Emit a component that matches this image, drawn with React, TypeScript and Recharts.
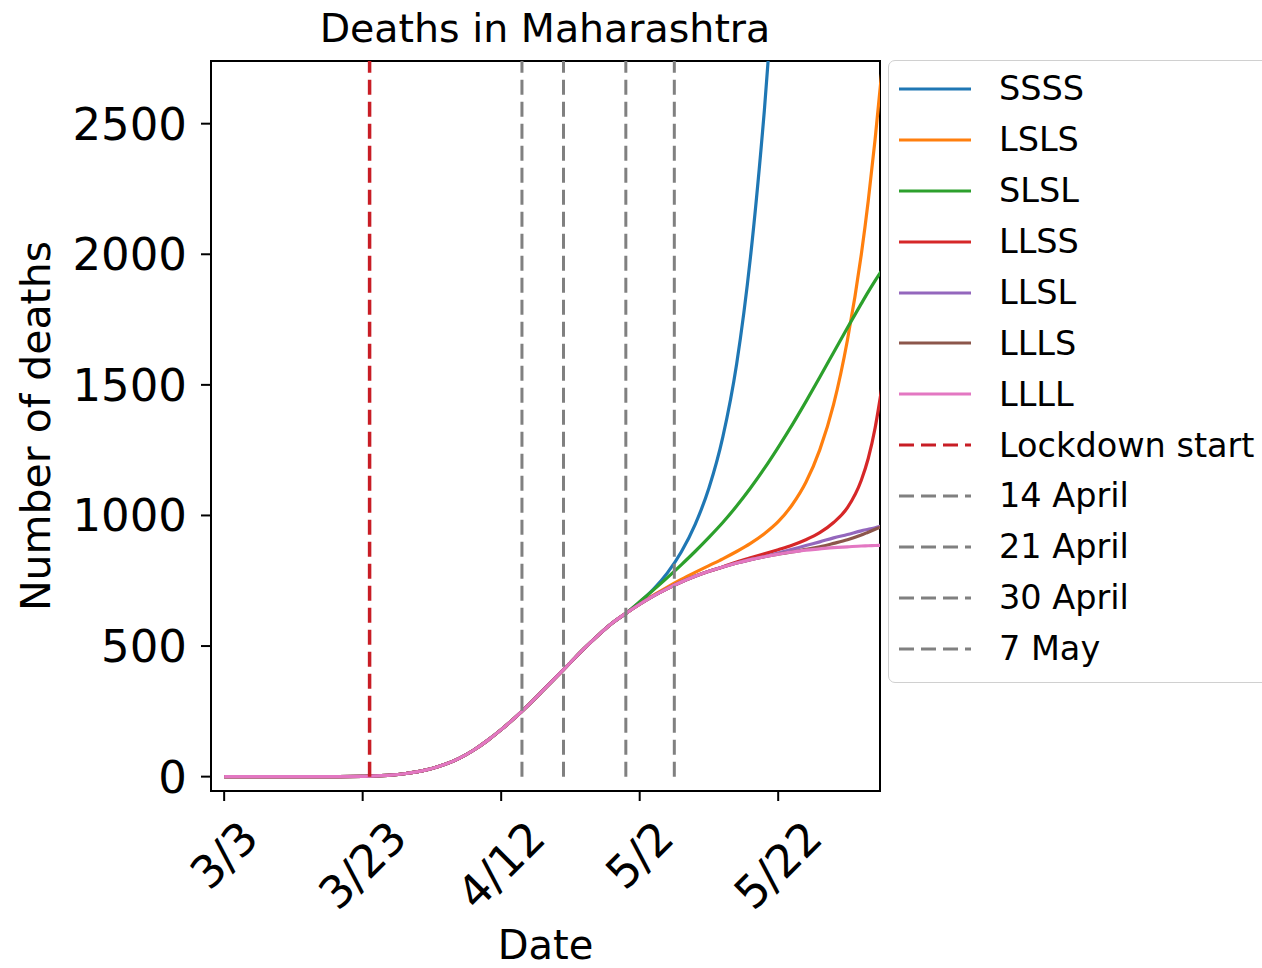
import React from "react";
import { LineChart, Line, XAxis, YAxis, ReferenceLine, ReferenceArea } from "recharts";

const FONT = "'DejaVu Sans', 'Liberation Sans', sans-serif";

// x values are days since 3 March
const earlyDays = [0, 5, 10, 15, 20, 22, 24, 26, 28, 30, 32, 34, 36, 38, 40, 42, 44, 46, 48, 50, 52, 54, 56];
const earlyDeaths = [0, 0, 0, 0, 1, 3, 6, 11, 19, 31, 48, 71, 101, 138, 180, 226, 276, 329, 383, 437, 491, 541, 587];

// after 30 April the scenarios split
const lateDays = [58, 60, 62, 64, 66, 68, 70, 72, 74, 76, 78, 80, 82, 84, 86, 88, 90, 92, 93, 94, 95];
const ssss = [625, 668, 718, 780, 860, 965, 1105, 1300, 1580, 1990, 2550, 3250];
const lsls = [625, 661, 695, 726, 755, 782, 808, 834, 862, 893, 930, 976, 1040, 1127, 1251, 1425, 1672, 1999, 2204, 2442, 2710];
const slsl = [625, 670, 715, 762, 811, 862, 916, 973, 1036, 1105, 1180, 1261, 1346, 1436, 1529, 1624, 1719, 1811, 1856, 1899, 1940];
const llss = [625, 660, 692, 720, 745, 767, 786, 803, 822, 838, 853, 869, 886, 907, 934, 973, 1030, 1135, 1218, 1336, 1495];
const llsl = [625, 660, 692, 720, 745, 767, 786, 803, 818, 831, 842, 856, 870, 885, 899, 914, 927, 941, 947, 953, 960];
const llls = [625, 660, 692, 720, 745, 767, 786, 803, 818, 831, 842, 852, 860, 870, 880, 893, 907, 925, 936, 947, 958];
const llll = [625, 660, 692, 720, 745, 767, 786, 803, 818, 831, 842, 852, 860, 867, 872, 877, 880, 883, 884, 885, 886];

const seriesNames = ["SSSS", "LSLS", "SLSL", "LLSS", "LLSL", "LLLS", "LLLL"];
const seriesColors = ["#1f77b4", "#ff7f0e", "#2ca02c", "#d62728", "#9467bd", "#8c564b", "#e377c2"];
const seriesValues = [ssss, lsls, slsl, llss, llsl, llls, llll];

const lockdownDay = 21;
const markerDays = [43, 49, 58, 65];
const markerLabels = ["14 April", "21 April", "30 April", "7 May"];

const xTicks = [0, 20, 40, 60, 80];
const xTickLabels = ["3/3", "3/23", "4/12", "5/2", "5/22"];
const yTicks = [0, 500, 1000, 1500, 2000, 2500];

const X_DOMAIN: [number, number] = [-1.9, 94.7];
const Y_DOMAIN: [number, number] = [-55, 2740];

const LOCKDOWN_RED = "#c81d25";
const MARKER_GREY = "#808080";

const data = [
  ...earlyDays.map((day, i) => {
    const row: Record<string, number> = { day };
    seriesNames.forEach((n) => (row[n] = earlyDeaths[i]));
    return row;
  }),
  ...lateDays.map((day, i) => {
    const row: Record<string, number> = { day };
    seriesNames.forEach((n, k) => {
      const v = seriesValues[k][i];
      if (v !== undefined) row[n] = v;
    });
    return row;
  }),
];

// rotated 45° like matplotlib: box centred on the tick, top just below it
function XTick({ x, y, payload }: any) {
  const label = xTickLabels[xTicks.indexOf(payload.value)] ?? "";
  const w = [...label].reduce((s, c) => s + (c === "/" ? 0.337 : 0.636), 0) * 45;
  const h = (w + 33) * 0.7071;
  const cy = y + 15 + h / 2;
  return (
    <text
      x={x}
      y={cy}
      transform={`rotate(-45 ${x} ${cy})`}
      textAnchor="middle"
      dominantBaseline="central"
      fontSize={45}
      fontFamily={FONT}
      fill="#000"
    >
      {label}
    </text>
  );
}

const legendItems = [
  ...seriesNames.map((n, i) => ({ label: n, color: seriesColors[i], dash: undefined as string | undefined })),
  { label: "Lockdown start", color: LOCKDOWN_RED, dash: "15 7" },
  ...markerLabels.map((l) => ({ label: l, color: MARKER_GREY, dash: "15 7" })),
];

export default function App() {
  return (
    <div style={{ position: "absolute", left: 0, top: 0, width: 1262, height: 968, overflow: "hidden", background: "#fff" }}>
      <div
        style={{
          position: "absolute",
          left: 0,
          width: 1090,
          top: 9,
          textAlign: "center",
          fontFamily: FONT,
          fontSize: 39.5,
          lineHeight: 1,
          color: "#000",
        }}
      >
        Deaths in Maharashtra
      </div>
      <LineChart width={1262} height={968} data={data} margin={{ top: 61, right: 382, bottom: 0, left: 0 }}>
        <XAxis
          dataKey="day"
          type="number"
          domain={X_DOMAIN}
          allowDataOverflow
          ticks={xTicks}
          height={177}
          tick={<XTick />}
          tickSize={10}
          axisLine={{ stroke: "#000", strokeWidth: 2 }}
          tickLine={{ stroke: "#000", strokeWidth: 2 }}
          label={{
            content: ({ viewBox }: any) => (
              <text
                x={viewBox.x + viewBox.width / 2}
                y={viewBox.y + viewBox.height - 9}
                textAnchor="middle"
                fontSize={40}
                fontFamily={FONT}
                fill="#000"
              >
                Date
              </text>
            ),
          }}
        />
        <YAxis
          type="number"
          domain={Y_DOMAIN}
          allowDataOverflow
          ticks={yTicks}
          width={211}
          tickSize={10}
          tickMargin={14}
          tick={{ fontSize: 45, fill: "#000", fontFamily: FONT }}
          axisLine={{ stroke: "#000", strokeWidth: 2 }}
          tickLine={{ stroke: "#000", strokeWidth: 2 }}
          label={{
            content: ({ viewBox }: any) => {
              const cy = viewBox.y + viewBox.height / 2;
              return (
                <text
                  x={50}
                  y={cy}
                  transform={`rotate(-90 50 ${cy})`}
                  textAnchor="middle"
                  fontSize={41}
                  fontFamily={FONT}
                  fill="#000"
                >
                  Number of deaths
                </text>
              );
            },
          }}
        />
        <ReferenceArea
          x1={X_DOMAIN[0]}
          x2={X_DOMAIN[1]}
          y1={Y_DOMAIN[0]}
          y2={Y_DOMAIN[1]}
          fill="none"
          stroke="#000"
          strokeWidth={2}
          ifOverflow="visible"
        />
        {seriesNames.map((n, i) => (
          <Line
            key={n}
            type="monotone"
            dataKey={n}
            stroke={seriesColors[i]}
            strokeWidth={3.2}
            dot={false}
            isAnimationActive={false}
          />
        ))}
        <ReferenceLine
          segment={[
            { x: lockdownDay, y: 0 },
            { x: lockdownDay, y: Y_DOMAIN[1] },
          ]}
          stroke={LOCKDOWN_RED}
          strokeWidth={3.5}
          strokeDasharray="15 7"
        />
        {markerDays.map((d) => (
          <ReferenceLine
            key={d}
            segment={[
              { x: d, y: 0 },
              { x: d, y: Y_DOMAIN[1] },
            ]}
            stroke={MARKER_GREY}
            strokeWidth={3}
            strokeDasharray="15 7"
          />
        ))}
      </LineChart>
      <div
        style={{
          position: "absolute",
          left: 888,
          top: 60,
          width: 400,
          height: 623,
          border: "1.5px solid #d0d0d0",
          borderRadius: 7,
          background: "#fff",
          fontFamily: FONT,
          fontSize: 33.5,
          color: "#000",
          boxSizing: "border-box",
        }}
      >
        {legendItems.map((it, i) => (
          <div
            key={it.label}
            style={{
              position: "absolute",
              left: 0,
              top: 28 + i * 50.9 - 25.45,
              height: 50.9,
              display: "flex",
              alignItems: "center",
              whiteSpace: "nowrap",
            }}
          >
            <svg width={72} height={8} style={{ marginLeft: 10 }}>
              <line x1={0} y1={4} x2={72} y2={4} stroke={it.color} strokeWidth={3.2} strokeDasharray={it.dash} />
            </svg>
            <span style={{ marginLeft: 28, lineHeight: 1 }}>{it.label}</span>
          </div>
        ))}
      </div>
    </div>
  );
}
